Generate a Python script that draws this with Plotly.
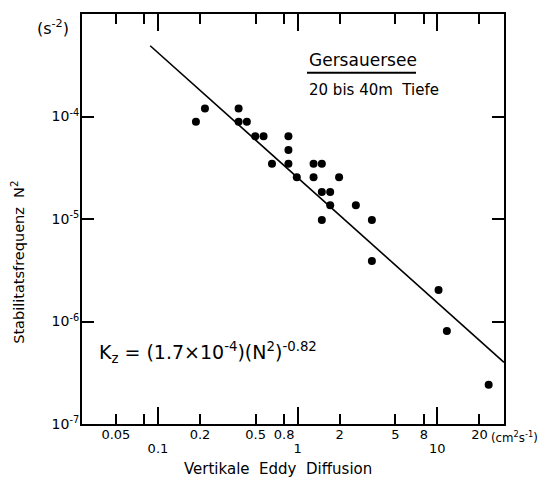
import numpy as np
import plotly.graph_objects as go

# Data
kz = [0.187, 0.217, 0.378, 0.378, 0.433, 0.497, 0.570, 0.859, 0.859, 0.655,
      0.859, 1.30, 1.49, 0.986, 1.30, 1.98, 1.49, 1.71, 1.71, 2.61,
      1.49, 3.40, 3.40, 10.2, 11.7, 23.3]
n2 = [8.9e-5, 1.2e-4, 1.2e-4, 8.9e-5, 8.9e-5, 6.4e-5, 6.4e-5, 6.4e-5, 4.7e-5, 3.45e-5,
      3.45e-5, 3.45e-5, 3.45e-5, 2.55e-5, 2.55e-5, 2.55e-5, 1.83e-5, 1.83e-5, 1.36e-5, 1.36e-5,
      9.8e-6, 9.8e-6, 3.9e-6, 2.03e-6, 8.1e-7, 2.42e-7]

# Regression K_z = a * (N^2)^b  ->  N^2 = (K_z / a)^(1/b)
fit_a = 1.7e-4
fit_b = -0.82
fit_x = np.array([0.088, 30.0])
fit_y = (fit_x / fit_a) ** (1.0 / fit_b)

x_minor_vals = [0.05, 0.08, 0.2, 0.5, 0.8, 2, 5, 8, 20]
x_minor_text = ["0.05", "", "0.2", "0.5", "0.8", "2", "5", "8", "20"]
x_major_vals = [0.1, 1, 10]
x_major_text = ["0.1", "1", "10"]
y_vals = [1e-7, 1e-6, 1e-5, 1e-4]
y_text = ["10<sup>-7</sup>", "10<sup>-6</sup>", "10<sup>-5</sup>", "10<sup>-4</sup>"]

# page offset (default body margin of the html page)
OFF = 8
W, H = 540, 476
L, R, T, B = 74, 44, 4, 60
PW, PH = W - L - R, H - T - B

def px(x):
    return (x - OFF - L) / PW

def py(y):
    return (H - B - (y - OFF)) / PH

FONT = "DejaVu Sans"
xr = [np.log10(0.0286), np.log10(30)]

fig = go.Figure()
fig.add_trace(go.Scatter(x=fit_x, y=fit_y, mode="lines", xaxis="x2",
                         line=dict(color="black", width=1.6), showlegend=False,
                         hoverinfo="skip"))
fig.add_trace(go.Scatter(x=kz, y=n2, mode="markers",
                         marker=dict(color="black", size=8), showlegend=False))

axis_common = dict(type="log", showgrid=False, zeroline=False, showline=True,
                   linecolor="black", linewidth=2, ticks="inside", tickcolor="black",
                   tickwidth=1.5, mirror="ticks")

fig.update_layout(
    width=W, height=H,
    margin=dict(l=L, r=R, t=T, b=B),
    paper_bgcolor="white", plot_bgcolor="white",
    font=dict(family=FONT, size=14, color="black"),
    xaxis=dict(**axis_common, range=xr, tickmode="array",
               tickvals=x_minor_vals, ticktext=x_minor_text, ticklen=10,
               ticklabelstandoff=-3,
               tickfont=dict(family=FONT, size=13, color="black")),
    xaxis2=dict(**axis_common, range=xr, overlaying="x", anchor="y", side="bottom",
                tickmode="array", tickvals=x_major_vals, ticktext=x_major_text,
                ticklen=17, ticklabelstandoff=11,
                tickfont=dict(family=FONT, size=13, color="black")),
    yaxis=dict(**axis_common, range=[-7, -3], tickmode="array",
               tickvals=y_vals, ticktext=y_text, ticklen=12, ticklabelstandoff=-2,
               tickfont=dict(family=FONT, size=14, color="black")),
)

ann = [
    dict(text="(s<sup>-2</sup>)", x=px(35), y=py(26), xanchor="left", yanchor="middle", size=16),
    dict(text="Gersauersee", x=px(307), y=py(58), xanchor="left", yanchor="middle", size=17),
    dict(text="20 bis 40m\u00a0 Tiefe", x=px(307), y=py(88), xanchor="left", yanchor="middle", size=15),
    dict(text="K<sub>z</sub> = (1.7×10<sup>-4</sup>)(N<sup>2</sup>)<sup>-0.82</sup>",
         x=px(97), y=py(352), xanchor="left", yanchor="middle", size=19),
    dict(text="(cm<sup>2</sup>s<sup>-1</sup>)", x=px(489), y=py(437), xanchor="left", yanchor="middle", size=11.8),
    dict(text="Vertikale\u00a0 Eddy\u00a0 Diffusion", x=px(278), y=py(469), xanchor="center", yanchor="middle", size=15),
]
for a in ann:
    fig.add_annotation(text=a["text"], x=a["x"], y=a["y"], xref="paper", yref="paper",
                       xanchor=a["xanchor"], yanchor=a["yanchor"], showarrow=False,
                       font=dict(family=FONT, size=a["size"], color="black"))

fig.add_annotation(text="Stabilitatsfrequenz\u00a0 N<sup>2</sup>", x=px(18), y=py(262),
                   xref="paper", yref="paper", textangle=-90, showarrow=False,
                   xanchor="center", yanchor="middle",
                   font=dict(family=FONT, size=14.5, color="black"))

fig.add_shape(type="line", xref="paper", yref="paper", x0=px(307), x1=px(416),
              y0=py(71), y1=py(71), line=dict(color="black", width=2))

fig.write_html("out.html")
